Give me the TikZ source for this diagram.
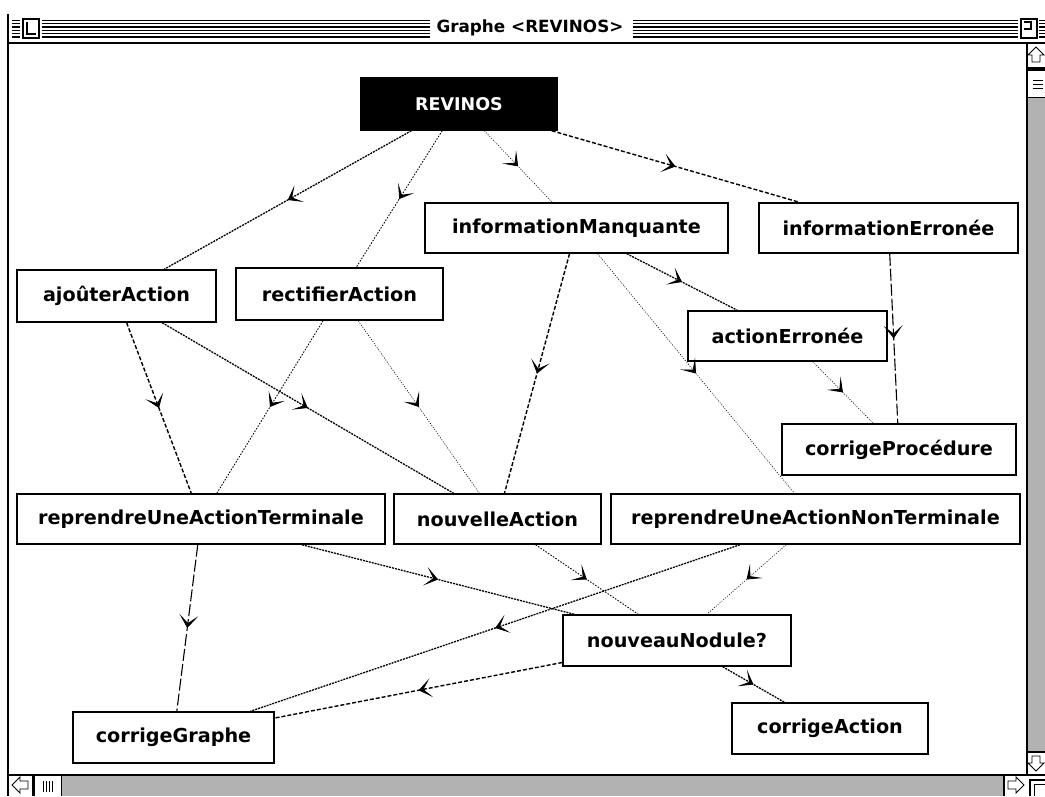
\documentclass[tikz,border=0pt]{standalone}
\usepackage{fontspec}
\setmainfont{DejaVu Sans}
\usetikzlibrary{arrows.meta,decorations.markings}
\tikzset{
	boite/.style={draw,line width=1.5pt,fill=white,inner sep=0pt,minimum height=51pt,font=\bfseries\fontsize{19.2}{21}\selectfont},
	fleche/.style={postaction={decorate},decoration={markings,mark=at position 0.5 with {\arrow{Stealth[length=13pt,width=19pt,inset=8pt,line width=0.8pt]}}}},
	serre/.style={fleche,line width=1.3pt,dash pattern=on 2pt off 1pt},
	pointe/.style={fleche,line width=0.9pt,dash pattern=on 1.5pt off 1.5pt},
	fin/.style={fleche,line width=0.6pt,dash pattern=on 1pt off 1.5pt},
	tirets/.style={fleche,line width=1.4pt,dash pattern=on 4pt off 2pt},
	longs/.style={fleche,line width=1.1pt,dash pattern=on 12pt off 3pt},
	gris/.style={fill=black!30},
}
\begin{document}
\begin{tikzpicture}[x=1pt,y=-1pt]
		\useasboundingbox (0,0) rectangle (1045,796);
		% fenetre
		\draw[line width=1.5pt] (8,14) -- (8,796);
		\draw[line width=1.5pt] (8,43) -- (1045,43);
		\foreach \y in {20.5,23.8,27.1,30.4,33.7,37}
		{
			\draw[line width=1.3pt] (12,\y) -- (20,\y);
			\draw[line width=1.3pt] (42,\y) -- (430,\y);
			\draw[line width=1.3pt] (633,\y) -- (1018,\y);
			\draw[line width=1.3pt] (1039,\y) -- (1045,\y);
		}
		\draw[line width=1.5pt,fill=white] (23,19) rectangle (39,38);
		\draw[line width=1.5pt] (27,22) -- (27,34) -- (36,34);
		\draw[line width=1.5pt,fill=white] (1021,19) rectangle (1037,38);
		\draw[line width=1.5pt] (1024,22) -- (1031,22) -- (1031,29) -- (1024,29);
		\node[font=\bfseries\fontsize{16.8}{19}\selectfont] (titre) at (530,28) {Graphe <REVINOS>};
		% barres de defilement
		\draw[line width=1.5pt] (1027,43) -- (1027,775);
		\draw[line width=0.8pt] (1036,47) -- (1044,55) -- (1040,55) -- (1040,62) -- (1032,62) -- (1032,55) -- (1028,55) -- cycle;
		\fill (1027,67) rectangle (1045,71);
		\foreach \y in {80,84,88}
		{
			\draw[line width=1pt] (1033,\y) -- (1043,\y);
		}
		\draw[line width=1pt] (1027,97) -- (1045,97);
		\fill[gris] (1028,98) rectangle (1045,751);
		\draw[line width=1.5pt] (1027,752) -- (1045,752);
		\draw[line width=0.8pt] (1036,771) -- (1044,763) -- (1040,763) -- (1040,756) -- (1032,756) -- (1032,763) -- (1028,763) -- cycle;
		\draw[line width=1.5pt] (8,775) -- (1045,775);
		\draw[line width=0.8pt] (12,785) -- (20,777) -- (20,781) -- (28,781) -- (28,789) -- (20,789) -- (20,793) -- cycle;
		\fill (32,775) rectangle (35,796);
		\foreach \x in {43,46,49,52}
		{
			\draw[line width=1pt] (\x,781) -- (\x,792);
		}
		\draw[line width=1pt] (61,775) -- (61,796);
		\fill[gris] (62,776) rectangle (1003,796);
		\draw[line width=1.5pt] (1004,775) -- (1004,796);
		\draw[line width=0.8pt] (1024,785) -- (1016,777) -- (1016,781) -- (1008,781) -- (1008,789) -- (1016,789) -- (1016,793) -- cycle;
		\draw[line width=1.5pt] (1030,796) -- (1030,780) -- (1045,780);
		\draw[line width=1pt] (1034,796) -- (1034,784) -- (1045,784);
		% noeuds
		\node[boite,fill=black,text=white,minimum width=196pt,minimum height=52pt,font=\bfseries\fontsize{17.5}{19}\selectfont] (revinos) at (459,104) {REVINOS};
		\node[boite,minimum width=303pt,minimum height=50pt] (infoManq) at (576.5,228) {informationManquante};
		\node[boite,minimum width=259pt,minimum height=50pt] (infoErr) at (888.5,228) {informationErronée};
		\node[boite,minimum width=199pt,minimum height=52pt] (ajouter) at (116.5,296) {ajoûterAction};
		\node[boite,minimum width=207pt,minimum height=52pt] (rectifier) at (339.5,294) {rectifierAction};
		\node[boite,minimum width=199pt,minimum height=50pt] (actionErr) at (787.5,336) {actionErronée};
		\node[boite,minimum width=234pt] (corrProc) at (899,449.5) {corrigeProcédure};
		\node[boite,minimum width=368pt,minimum height=50pt] (reprTerm) at (201,519) {reprendreUneActionTerminale};
		\node[boite,minimum width=207pt,minimum height=50pt] (nouvAction) at (497.5,519) {nouvelleAction};
		\node[boite,minimum width=409pt,minimum height=50pt] (reprNonTerm) at (815.5,519) {reprendreUneActionNonTerminale};
		\node[boite,minimum width=228pt] (nouvNodule) at (677,640.5) {nouveauNodule?};
		\node[boite,minimum width=201pt] (corrGraphe) at (173.5,737.5) {corrigeGraphe};
		\node[boite,minimum width=196pt] (corrAction) at (830,728.5) {corrigeAction};
		% liens
		\draw[serre] (revinos) -- (ajouter);
		\draw[pointe] (revinos) -- (rectifier);
		\draw[fin] (revinos) -- (infoManq);
		\draw[tirets] (revinos) -- (infoErr);
		\draw[serre] (infoManq) -- (actionErr);
		\draw[tirets] (infoManq) -- (nouvAction);
		\draw[fin] (infoManq) -- (reprNonTerm);
		\draw[longs] (infoErr) -- (corrProc);
		\draw[fin] (actionErr) -- (corrProc);
		\draw[tirets] (ajouter) -- (reprTerm);
		\draw[serre] (ajouter) -- (nouvAction);
		\draw[pointe] (rectifier) -- (reprTerm);
		\draw[fin] (rectifier) -- (nouvAction);
		\draw[serre] (reprTerm) -- (nouvNodule);
		\draw[longs] (reprTerm) -- (corrGraphe);
		\draw[pointe] (nouvAction) -- (nouvNodule);
		\draw[serre] (reprNonTerm) -- (corrGraphe);
		\draw[fin] (reprNonTerm) -- (nouvNodule);
		\draw[tirets] (nouvNodule) -- (corrGraphe);
		\draw[serre] (nouvNodule) -- (corrAction);
\end{tikzpicture}
\end{document}
